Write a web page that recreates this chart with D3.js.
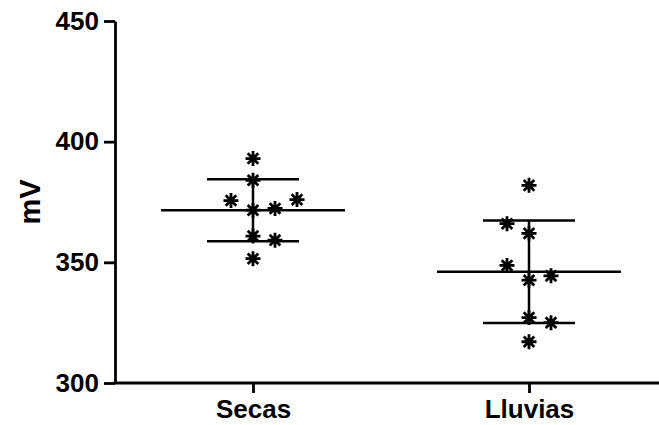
<!DOCTYPE html>
<html>
<head>
<meta charset="utf-8">
<script src="https://cdn.jsdelivr.net/npm/d3@7"></script>
<style>
  body { margin: 0; background: #fff; }
  svg { display: block; font-family: "Liberation Sans", Arial, sans-serif; }
  .axis path, .axis line { stroke: #000; stroke-width: 2.8; }
  .axis text { font-size: 26px; font-weight: bold; fill: #000; }
  .y-label { font-size: 29px; font-weight: bold; }
</style>
</head>
<body>
<div id="chart"></div>
<script>
const groups = ["Secas", "Lluvias"];
const secasValues   = [393.0, 384.0, 375.6, 376.0, 371.6, 372.3, 360.9, 359.2, 351.5];
const lluviasValues = [381.9, 366.0, 362.0, 348.7, 342.6, 344.4, 327.1, 325.0, 317.1];
// scatter slot of each point (Prism spreads colliding points sideways)
const secasSlots   = [0, 0, -1, 2, 0, 1, 0, 1, 0];
const lluviasSlots = [0, -1, 0, -1, 0, 1, 0, 1, 0];
const yTicks = [300, 350, 400, 450];
const yTitle = "mV";

const W = 659, H = 425;
const margin = { top: 21, right: -8, bottom: 42, left: 115 };
const width  = W - margin.left - margin.right;
const height = H - margin.top - margin.bottom;

const svg = d3.select("#chart").append("svg")
    .attr("width", W).attr("height", H);
const g = svg.append("g").attr("transform", `translate(${margin.left},${margin.top})`);

const x = d3.scalePoint().domain(groups).range([0, width]).padding(0.5);
const y = d3.scaleLinear().domain([300, 450]).range([height, 0]);

const series = [
  { name: "Secas",   values: secasValues,   slots: secasSlots },
  { name: "Lluvias", values: lluviasValues, slots: lluviasSlots }
];

// 8-armed asterisk marker
const star = {
  draw(ctx, size) {
    const r = Math.sqrt(size) / 2, d = r * Math.SQRT1_2;
    ctx.moveTo(0, -r); ctx.lineTo(0, r);
    ctx.moveTo(-r, 0); ctx.lineTo(r, 0);
    ctx.moveTo(-d, -d); ctx.lineTo(d, d);
    ctx.moveTo(-d, d); ctx.lineTo(d, -d);
  }
};
const symbol = d3.symbol().type(star).size(225);
const slotW = 22;

// axes
g.append("g").attr("class", "axis y-axis")
  .call(d3.axisLeft(y).tickValues(yTicks).tickSize(11).tickPadding(5).tickSizeOuter(0));

const xAxis = g.append("g").attr("class", "axis x-axis")
  .attr("transform", `translate(0,${height})`)
  .call(d3.axisBottom(x).tickSize(10).tickPadding(7).tickSizeOuter(0));
xAxis.select(".domain").attr("d", `M-1.4,0H${width}`);

g.append("text").attr("class", "y-label")
  .attr("transform", `translate(${30 - margin.left},${(y(375))}) rotate(-90)`)
  .attr("text-anchor", "middle").attr("dominant-baseline", "central")
  .text(yTitle);

// mean +/- SD lines
series.forEach(s => {
  const cx = x(s.name);
  const m = d3.mean(s.values), sd = d3.deviation(s.values);
  const sg = g.append("g").attr("stroke", "#000").attr("stroke-width", 2.5).attr("fill", "none");
  sg.append("line").attr("x1", cx - 92).attr("x2", cx + 92).attr("y1", y(m)).attr("y2", y(m));
  sg.append("line").attr("x1", cx).attr("x2", cx).attr("y1", y(m + sd)).attr("y2", y(m - sd));
  [m + sd, m - sd].forEach(v => sg.append("line")
    .attr("x1", cx - 46).attr("x2", cx + 46).attr("y1", y(v)).attr("y2", y(v)));

  g.append("g").selectAll("path")
    .data(s.values.map((v, i) => ({ v, slot: s.slots[i] })))
    .join("path")
      .attr("d", symbol)
      .attr("transform", d => `translate(${cx + d.slot * slotW},${y(d.v)})`)
      .attr("stroke", "#000").attr("stroke-width", 2.8).attr("fill", "none");
});
</script>
</body>
</html>
